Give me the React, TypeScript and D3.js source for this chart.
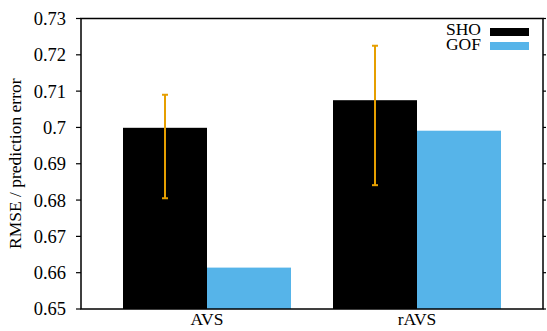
import React from 'react';
import * as d3 from 'd3';

const categories = ['AVS', 'rAVS'];
const seriesNames = ['SHO', 'GOF'];
const shoValues = [0.6999, 0.7075];
const gofValues = [0.6614, 0.6991];
const shoErrLow = [0.6805, 0.6841];
const shoErrHigh = [0.709, 0.7225];
const yTicks = [0.65, 0.66, 0.67, 0.68, 0.69, 0.7, 0.71, 0.72, 0.73];

const colors = ['#000000', '#56b4e9'];
const errColor = '#e69f00';

export default function App() {
    const width = 547;
    const height = 331;
    const margin = { top: 18.5, right: 4, bottom: 22, left: 81 };
    const font = 'Liberation Serif, Times New Roman, Times, serif';

    const x = d3.scaleLinear().domain([-0.6, 1.6]).range([margin.left, width - margin.right]);
    const y = d3.scaleLinear().domain([0.65, 0.73]).range([height - margin.bottom, margin.top]);
    const barW = x(0.4) - x(0);

    const series = [shoValues, gofValues];
    const txt = { fontFamily: font, fontSize: 17.5 };

    return (
        <svg width={width} height={height} style={{ position: 'absolute', left: 0, top: 0, fontFamily: font }}>
            <rect width={width} height={height} fill="#fff" />
            {/* bars */}
            {series.map((vals, s) =>
                vals.map((v, i) => (
                    <rect
                        key={`${s}-${i}`}
                        x={x(i) - barW + s * barW}
                        y={y(v)}
                        width={barW}
                        height={y(0.65) - y(v)}
                        fill={colors[s]}
                    />
                ))
            )}
            {/* error bars on SHO */}
            {categories.map((c, i) => {
                const cx = x(i) - barW / 2;
                return (
                    <g key={c} stroke={errColor} strokeWidth={2}>
                        <line x1={cx} x2={cx} y1={y(shoErrLow[i])} y2={y(shoErrHigh[i])} />
                        <line x1={cx - 3} x2={cx + 3} y1={y(shoErrLow[i])} y2={y(shoErrLow[i])} />
                        <line x1={cx - 3} x2={cx + 3} y1={y(shoErrHigh[i])} y2={y(shoErrHigh[i])} />
                    </g>
                );
            })}
            {/* frame */}
            <rect
                x={x(-0.6)}
                y={y(0.73)}
                width={x(1.6) - x(-0.6)}
                height={y(0.65) - y(0.73)}
                fill="none"
                stroke="#000"
                strokeWidth={1.5}
            />
            {/* y ticks */}
            {yTicks.map(t => (
                <g key={t}>
                    <line x1={x(-0.6) - 5} x2={x(-0.6)} y1={y(t)} y2={y(t)} stroke="#000" strokeWidth={1.2} />
                    <line x1={x(1.6)} x2={x(1.6) + 3} y1={y(t)} y2={y(t)} stroke="#000" strokeWidth={1.2} />
                    <text x={66} y={y(t)} dy="0.35em" textAnchor="end" style={{ ...txt, fontSize: 18.5 }}>
                        {d3.format('')(t)}
                    </text>
                </g>
            ))}
            {/* x labels */}
            {categories.map((c, i) => (
                <text key={c} x={x(i)} y={325} textAnchor="middle" style={txt}>
                    {c}
                </text>
            ))}
            {/* y axis title */}
            <text
                transform={`translate(21, ${(y(0.65) + y(0.73)) / 2}) rotate(-90)`}
                textAnchor="middle"
                style={txt}
            >
                RMSE / prediction error
            </text>
            {/* legend */}
            {seriesNames.map((n, s) => (
                <g key={n}>
                    <text x={481} y={35 + s * 15} textAnchor="end" style={txt}>
                        {n}
                    </text>
                    <rect x={490} y={28 + s * 14} width={39} height={8} fill={colors[s]} />
                </g>
            ))}
        </svg>
    );
}
